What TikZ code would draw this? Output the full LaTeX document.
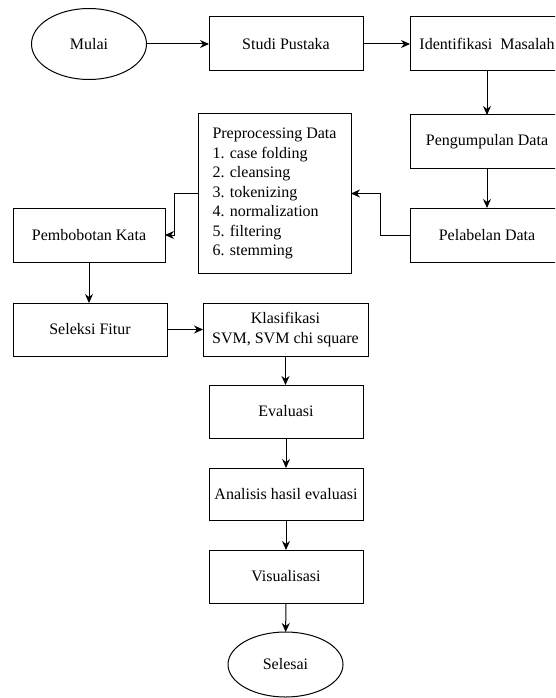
\documentclass[tikz,border=0pt]{standalone}
\usepackage{fontspec}
\setmainfont{Liberation Serif}[Ligatures=TeX]
\usetikzlibrary{shapes.geometric,arrows.meta}

\begin{document}
\begin{tikzpicture}[x=1pt,y=-1pt,line width=1pt,
    font=\rmfamily\fontsize{16}{19.5}\selectfont,
    box/.style={draw,rectangle,inner sep=0pt,outer sep=0pt,minimum width=154pt,minimum height=54pt,align=center},
    term/.style={draw,ellipse,inner sep=0pt,outer sep=0pt},
    arr/.style={-{Stealth[length=9pt,width=8pt]}}]
                % canvas of the picture
                \useasboundingbox (0,0) rectangle (555,698);
                \clip (0,0) rectangle (555,698);
                % Top row
                \node[term,minimum width=115pt,minimum height=71pt] (mulai) at (89,44) {Mulai};
                \node[box] (studi) at (286,44) {Studi Pustaka};
                \node[box] (identifikasi) at (487,44) {Identifikasi\ \ Masalah};
                % Right column
                \node[box,minimum height=53pt] (pengumpulan) at (487,141.5) {Pengumpulan Data};
                \node[box] (pelabelan) at (487,235) {Pelabelan Data};
                % Preprocessing and weighting
                \node[box,minimum width=153pt,minimum height=159pt,align=left] (preprocessing) at (274.5,193.5)
                    {Preprocessing Data\\1. case folding\\2. cleansing\\3. tokenizing\\4. normalization\\5. filtering\\6. stemming};
                \node[box,minimum width=152pt] (pembobotan) at (89,235) {Pembobotan Kata};
                % Left to center column
                \node[box,minimum height=53pt] (seleksi) at (90,329.5) {Seleksi Fitur};
                \node[box,minimum width=165pt,minimum height=53pt] (klasifikasi) at (285.5,329.5) {Klasifikasi\\SVM, SVM chi square};
                \node[box,minimum height=53pt] (evaluasi) at (286,411.5) {Evaluasi};
                \node[box,minimum height=52pt] (analisis) at (286,494) {Analisis hasil evaluasi};
                \node[box,minimum height=53pt] (visualisasi) at (286,576.5) {Visualisasi};
                \node[term,minimum width=115pt,minimum height=65pt] (selesai) at (285.5,664.5) {Selesai};
                % Connectors
                \draw[arr] (mulai) -- (studi);
                \draw[arr] (studi) -- (identifikasi);
                \draw[arr] (identifikasi) -- (pengumpulan);
                \draw[arr] (pengumpulan) -- (pelabelan);
                \draw[arr] (pelabelan.west) -- ++(-30,0) |- (preprocessing.east);
                \draw[arr] (preprocessing.west) -- ++(-24,0) |- (pembobotan.east);
                \draw[arr] (pembobotan.south) -- (pembobotan.south |- seleksi.north);
                \draw[arr] (seleksi) -- (klasifikasi);
                \draw[arr] (klasifikasi.south) -- (klasifikasi.south |- evaluasi.north);
                \draw[arr] (evaluasi) -- (analisis);
                \draw[arr] (analisis) -- (visualisasi);
                \draw[arr] (visualisasi) -- (selesai);
            \end{tikzpicture}
\end{document}
